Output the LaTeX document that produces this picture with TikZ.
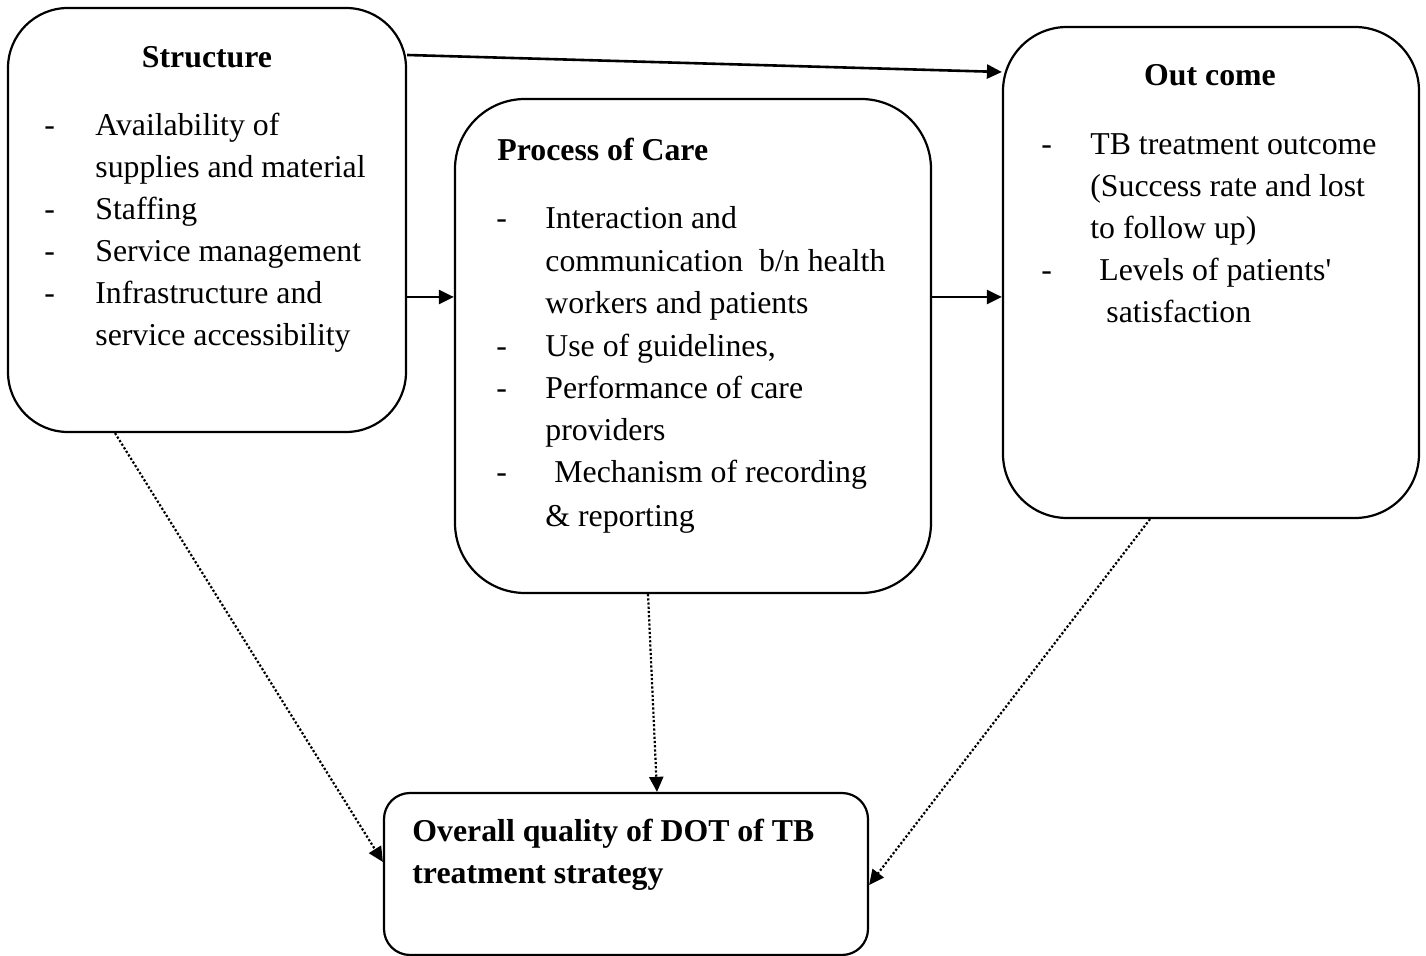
\documentclass[tikz,border=0pt]{standalone}
\usepackage{fontspec}
\setmainfont{Liberation Serif}
\usetikzlibrary{arrows.meta}
\begin{document}
\begin{tikzpicture}[x=0.5pt,y=-0.5pt,
  box/.style={draw,line width=1.1pt,inner sep=0pt},
  txt/.style={anchor=base west,inner sep=0pt,font=\fontsize{15.9}{19}\selectfont},
  ttl/.style={anchor=base,inner sep=0pt,font=\fontsize{15.9}{19}\selectfont\bfseries},
  arr/.style={line width=1.3pt,-{Triangle[length=7.5pt,width=7pt]}},
  dot/.style={line width=1.1pt,dash pattern=on 1.1pt off 1pt,-{Triangle[length=7.5pt,width=7pt]}}]
\useasboundingbox (0,0) rectangle (1426,956);
% boxes
\node[box,rounded corners=30pt,minimum width=199pt,minimum height=212pt] (S) at (207,220) {};
\node[box,rounded corners=35pt,minimum width=238pt,minimum height=247pt] (P) at (693,346) {};
\node[box,rounded corners=32pt,minimum width=208pt,minimum height=245.5pt] (O) at (1211,272.5) {};
\node[box,rounded corners=13pt,minimum width=242pt,minimum height=81pt] (Q) at (626,874) {};
% Structure text
\node[ttl] (st) at (207,68) {Structure};
\node[txt] (sd1) at (44,136) {-};
\node[txt] (s1) at (95,136) {Availability of};
\node[txt] (s2) at (95,178) {supplies and material};
\node[txt] (sd3) at (44,220) {-};
\node[txt] (s3) at (95,220) {Staffing};
\node[txt] (sd4) at (44,262) {-};
\node[txt] (s4) at (95,262) {Service management};
\node[txt] (sd5) at (44,304) {-};
\node[txt] (s5) at (95,304) {Infrastructure and};
\node[txt] (s6) at (95,346) {service accessibility};
% Process text
\node[txt,font=\fontsize{15.9}{19}\selectfont\bfseries] (pt) at (497,161) {Process of Care};
\node[txt] (pd1) at (496,229) {-};
\node[txt] (p1) at (545,229) {Interaction and};
\node[txt] (p2) at (545,272) {communication\ \ b/n health};
\node[txt] (p3) at (545,314) {workers and patients};
\node[txt] (pd4) at (496,357) {-};
\node[txt] (p4) at (545,357) {Use of guidelines,};
\node[txt] (pd5) at (496,399) {-};
\node[txt] (p5) at (545,399) {Performance of care};
\node[txt] (p6) at (545,441) {providers};
\node[txt] (pd7) at (496,483) {-};
\node[txt] (p7) at (554,483) {Mechanism of recording};
\node[txt] (p8) at (545,527) {\& reporting};
% Outcome text
\node[ttl] (ot) at (1210,86) {Out come};
\node[txt] (od1) at (1041,155) {-};
\node[txt] (o1) at (1090,155) {TB treatment outcome};
\node[txt] (o2) at (1090,197) {(Success rate and lost};
\node[txt] (o3) at (1090,239) {to follow up)};
\node[txt] (od4) at (1041,281) {-};
\node[txt] (o4) at (1099,281) {Levels of patients\textquotesingle};
\node[txt] (o5) at (1106,323) {satisfaction};
% Overall text
\node[txt,font=\fontsize{15.9}{19}\selectfont\bfseries] (q1) at (412,842) {Overall quality of DOT of TB};
\node[txt,font=\fontsize{15.9}{19}\selectfont\bfseries] (q2) at (412,884) {treatment strategy};
% helper coordinates
\coordinate (y55) at (0,55);
\coordinate (y72) at (0,72);
\coordinate (y297) at (0,297);
\coordinate (x115) at (115,0);
\coordinate (y862) at (0,862);
\coordinate (x648) at (648,0);
\coordinate (x657) at (657,0);
\coordinate (x1150) at (1150,0);
\coordinate (y885) at (0,885);
% connectors
\draw[arr] (S.east |- y55) -- (O.west |- y72);
\draw[arr] (S.east |- y297) -- (P.west |- y297);
\draw[arr] (P.east |- y297) -- (O.west |- y297);
\draw[dot] (S.south -| x115) -- (Q.west |- y862);
\draw[dot] (P.south -| x648) -- (Q.north -| x657);
\draw[dot] (O.south -| x1150) -- (Q.east |- y885);
\end{tikzpicture}
\end{document}
